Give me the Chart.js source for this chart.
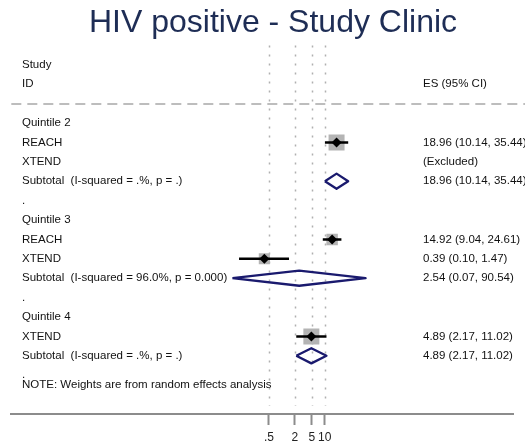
<!DOCTYPE html>
<html>
<head>
<meta charset="utf-8">
<script src="https://cdn.jsdelivr.net/npm/chart.js@4.4.1/dist/chart.umd.min.js"></script>
<style>
  html, body { margin: 0; padding: 0; background: #fff; }
</style>
</head>
<body>
<canvas id="forestChart" width="525" height="446"></canvas>
<script>
// Forest plot: HIV positive, study clinic, by quintile

const titleText = "HIV positive - Study Clinic";
const rowLabels = [
  "Quintile 2", "REACH", "XTEND", "Subtotal  (I-squared = .%, p = .)", ".",
  "Quintile 3", "REACH", "XTEND", "Subtotal  (I-squared = 96.0%, p = 0.000)", ".",
  "Quintile 4", "XTEND", "Subtotal  (I-squared = .%, p = .)", "."
];
// 'study' rows get a box + CI, 'sub' rows get a pooled diamond
const rowKinds = [
  "head", "study", "excl", "sub", "blank",
  "head", "study", "study", "sub", "blank",
  "head", "study", "sub", "blank"
];
const esValues = [null, 18.96, null, 18.96, null, null, 14.92, 0.39, 2.54, null, null, 4.89, 4.89, null];
const ciLower  = [null, 10.14, null, 10.14, null, null, 9.04, 0.10, 0.07, null, null, 2.17, 2.17, null];
const ciUpper  = [null, 35.44, null, 35.44, null, null, 24.61, 1.47, 90.54, null, null, 11.02, 11.02, null];
const weights  = [null, 100, null, null, null, null, 51.5, 48.5, null, null, null, 100, null, null];
const noteText = "NOTE: Weights are from random effects analysis";

const tickValues = [0.5, 2, 5, 10];
const tickLabels = [".5", "2", "5", "10"];

const FONT = "'Liberation Sans', Arial, Helvetica, sans-serif";
const NAVY = "#1a1a6e";

// log-axis limits so the axis runs across the whole panel
const xMin = Math.pow(10, -6.319);
const xMax = Math.pow(10, 5.415);

const studyRows = rowKinds.map((k, i) => i).filter(i => rowKinds[i] === "study");
const subRows = rowKinds.map((k, i) => i).filter(i => rowKinds[i] === "sub");

// weight box: area proportional to weight
function boxRadius(w) {
  const side = 16 * Math.sqrt(w / 100);
  return side / (2 * Math.SQRT1_2);
}

const datasets = [];

datasets.push({
  label: "weights",
  data: studyRows.map(i => ({ x: esValues[i], y: i })),
  pointStyle: "rect",
  pointRadius: studyRows.map(i => boxRadius(weights[i])),
  backgroundColor: "#b4b4b4",
  borderWidth: 0,
  order: 3
});

studyRows.forEach(i => {
  datasets.push({
    label: "ci" + i,
    data: [{ x: ciLower[i], y: i }, { x: ciUpper[i], y: i }],
    showLine: true,
    borderColor: "#000",
    borderWidth: 2.5,
    pointRadius: 0,
    order: 2
  });
});

datasets.push({
  label: "estimates",
  data: studyRows.map(i => ({ x: esValues[i], y: i })),
  pointStyle: "rectRot",
  pointRadius: 5,
  backgroundColor: "#000",
  borderWidth: 0,
  order: 1
});

const halfH = 0.39;
subRows.forEach(i => {
  datasets.push({
    label: "pooled" + i,
    data: [
      { x: ciLower[i], y: i },
      { x: esValues[i], y: i - halfH },
      { x: ciUpper[i], y: i },
      { x: esValues[i], y: i + halfH },
      { x: ciLower[i], y: i }
    ],
    showLine: true,
    fill: false,
    borderColor: NAVY,
    borderWidth: 2.3,
    borderJoinStyle: "round",
    pointRadius: 0,
    order: 1
  });
});

function esText(i) {
  if (rowKinds[i] === "excl") return "(Excluded)";
  if (esValues[i] == null) return "";
  return esValues[i].toFixed(2) + " (" + ciLower[i].toFixed(2) + ", " + ciUpper[i].toFixed(2) + ")";
}

const forestDecor = {
  id: "forestDecor",
  beforeDatasetsDraw(chart) {
    const { ctx, chartArea, scales } = chart;
    ctx.save();
    // dotted reference lines at each tick
    ctx.strokeStyle = "#b0b0b0";
    ctx.lineWidth = 1.5;
    ctx.setLineDash([2, 7]);
    tickValues.forEach(v => {
      const px = Math.round(scales.x.getPixelForValue(v)) + 0.5;
      ctx.beginPath();
      ctx.moveTo(px, chartArea.top);
      ctx.lineTo(px, chartArea.bottom - 8);
      ctx.stroke();
    });
    // dashed separator under the header
    const yd = Math.round(scales.y.getPixelForValue(-1));
    ctx.strokeStyle = "#bdbdbd";
    ctx.lineWidth = 2;
    ctx.setLineDash([10, 6]);
    ctx.beginPath();
    ctx.moveTo(chartArea.left, yd);
    ctx.lineTo(chart.width, yd);
    ctx.stroke();
    ctx.restore();
  },
  afterDraw(chart) {
    const { ctx, scales } = chart;
    const y = scales.y;
    ctx.save();
    ctx.fillStyle = "#1e2d55";
    ctx.font = "32px " + FONT;
    ctx.textAlign = "center";
    ctx.textBaseline = "alphabetic";
    ctx.fillText(titleText, 273, 32);

    ctx.fillStyle = "#111";
    ctx.font = "11.5px " + FONT;
    ctx.textAlign = "left";
    ctx.textBaseline = "middle";
    ctx.fillText("Study", 22, y.getPixelForValue(-3));
    ctx.fillText("ID", 22, y.getPixelForValue(-2));
    ctx.fillText("ES (95% CI)", 423, y.getPixelForValue(-2));
    rowLabels.forEach((lab, i) => {
      ctx.fillText(lab, 22, y.getPixelForValue(i));
      const t = esText(i);
      if (t) ctx.fillText(t, 423, y.getPixelForValue(i));
    });
    ctx.fillText(noteText, 22, y.getPixelForValue(13.52));
    ctx.restore();
  }
};

new Chart(document.getElementById("forestChart"), {
  type: "scatter",
  data: { datasets },
  options: {
    responsive: false,
    animation: false,
    events: [],
    layout: { padding: { top: 45.4, left: 10, right: 10, bottom: 0 } },
    plugins: {
      legend: { display: false },
      tooltip: { enabled: false }
    },
    scales: {
      x: {
        type: "logarithmic",
        position: "bottom",
        min: xMin,
        max: xMax,
        bounds: "data",
        afterBuildTicks: s => { s.ticks = tickValues.map(v => ({ value: v })); },
        afterFit: s => { s.height = 32; },
        grid: {
          drawOnChartArea: false,
          drawTicks: true,
          tickLength: 11,
          tickWidth: 2,
          tickColor: "#8c8c8c"
        },
        border: { display: true, color: "#8c8c8c", width: 2 },
        ticks: {
          autoSkip: false,
          maxRotation: 0,
          padding: 5,
          color: "#222",
          font: { family: FONT, size: 12 },
          callback: (v, i) => tickLabels[i]
        }
      },
      y: {
        type: "linear",
        display: false,
        reverse: true,
        min: -4,
        max: 15
      }
    }
  },
  plugins: [forestDecor]
});
</script>
</body>
</html>
